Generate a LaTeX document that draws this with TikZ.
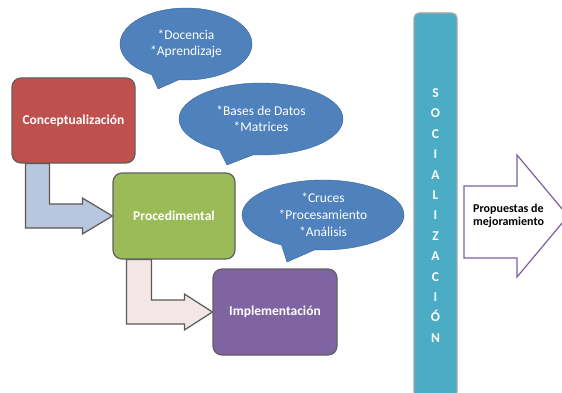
\documentclass[tikz,border=0pt]{standalone}
\usepackage{fontspec}
\setmainfont{Carlito}
\usepackage{tikz}
\usetikzlibrary{
  positioning,
  calc,
  shapes.callouts,
  backgrounds
}
\definecolor{conceptcolor}{HTML}{C0504D}
\definecolor{proccolor}{HTML}{9BBB59}
\definecolor{implcolor}{HTML}{8064A2}
\definecolor{bubblecolor}{HTML}{4F81BD}
\definecolor{bubbleline}{HTML}{3A6395}
\definecolor{socialcolor}{HTML}{4BACC6}
\definecolor{bluearrow}{HTML}{B9C7DE}
\definecolor{pinkarrow}{HTML}{F2E6E6}
\definecolor{propline}{HTML}{7B5FA0}

\begin{document}
\begin{tikzpicture}[
  x=1pt, y=-1pt,
  stepbox/.style={draw=gray!75!black, line width=1.2pt, rounded corners=9pt,
               text=white, inner sep=0pt,
               font=\fontsize{13.5}{16}\selectfont\bfseries},
  bubble/.style={ellipse callout, draw=bubbleline, fill=bubblecolor,
               text=white, inner sep=0pt, align=center,
               callout pointer arc=25, font=\fontsize{13.5}{16}\selectfont},
  bentarrow/.style={draw=gray!70!black, line width=1.2pt},
]
  \useasboundingbox (0,0) rectangle (562,393);

  % process boxes
  \node[stepbox, fill=conceptcolor, minimum width=123, minimum height=85]
    (concept) at (73.5,120.5) {Conceptualización};
  \node[stepbox, fill=proccolor, minimum width=122, minimum height=86]
    (proc) at (174,216) {Procedimental};
  \node[stepbox, fill=implcolor, minimum width=124, minimum height=86]
    (impl) at (275,312) {Implementación};

  % bent arrows between the boxes
  \begin{scope}[on background layer]
    \draw[bentarrow, fill=bluearrow]
      ($(concept.south west)+(14,0)$) |- ($(proc.west)+(-30,12)$)
      -- ($(proc.west)+(-30,18)$) -- (proc.west)
      -- ($(proc.west)+(-30,-18)$) -- ($(proc.west)+(-30,-12)$)
      -| ($(concept.south west)+(38,0)$) -- cycle;
    \draw[bentarrow, fill=pinkarrow]
      ($(proc.south west)+(14,0)$) |- ($(impl.west)+(-28,12)$)
      -- ($(impl.west)+(-28,18)$) -- (impl.west)
      -- ($(impl.west)+(-28,-18)$) -- ($(impl.west)+(-28,-12)$)
      -| ($(proc.south west)+(39,0)$) -- cycle;
  \end{scope}

  % speech bubbles
  \node[bubble, minimum width=132, minimum height=72,
        callout absolute pointer={(158,89)}]
    (teach) at (186,44) {*Docencia\\*Aprendizaje};
  \node[bubble, minimum width=164, minimum height=72,
        callout absolute pointer={(227,165)}]
    (data) at (261,119) {*Bases de Datos\\*Matrices};
  \node[bubble, minimum width=162, minimum height=70,
        callout absolute pointer={(287,262)}, font=\fontsize{13.5}{17}\selectfont]
    (process) at (323,215) {*Cruces\\*Procesamiento\\*Análisis};

  % socialization bar
  \node[draw=gray!70, line width=1.2pt, fill=socialcolor, rounded corners=5pt,
        minimum width=43, minimum height=384, inner sep=0pt]
    (social) at (435.5,205) {};
  \node[text=white, align=center, inner sep=0pt,
        font=\fontsize{13.5}{20.4}\selectfont\bfseries]
    (socialtext) at (435.5,215.5)
    {S\\O\\C\\I\\A\\L\\I\\Z\\A\\C\\I\\Ó\\N};

  % outcome arrow
  \draw[draw=propline, line width=1.2pt, fill=white]
    (464,186) -- (517,186) -- (517,155) -- (568,216)
    -- (517,277) -- (517,258) -- (464,258) -- cycle;
  \node[anchor=west, align=left, inner sep=0pt,
        font=\fontsize{12}{13.5}\selectfont\bfseries]
    (proposal) at (473,216) {Propuestas de\\mejoramiento};
\end{tikzpicture}
\end{document}
